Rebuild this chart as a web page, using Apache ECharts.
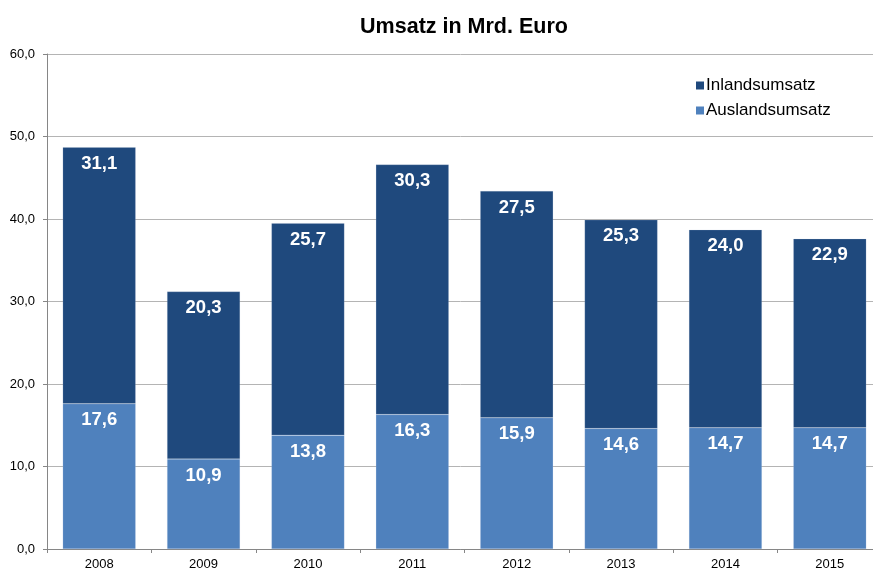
<!DOCTYPE html>
<html>
<head>
<meta charset="utf-8">
<script src="https://cdn.jsdelivr.net/npm/echarts@6/dist/echarts.min.js"></script>
<style>html,body{margin:0;padding:0;background:#fff;}#c{width:873px;height:571px;}</style>
</head>
<body>
<div id="c"></div>
<script>
var years = ['2008','2009','2010','2011','2012','2013','2014','2015'];
var ausland = [17.6, 10.9, 13.8, 16.3, 15.9, 14.6, 14.7, 14.7];
var inland = [31.1, 20.3, 25.7, 30.3, 27.5, 25.3, 24.0, 22.9];
var seriesNames = ['Auslandsumsatz', 'Inlandsumsatz'];

function fmt(v){ return Number(v).toFixed(1).replace('.', ','); }

var chart = echarts.init(document.getElementById('c'));
var labelStyle = {
  show: true, position: 'insideTop', distance: 7,
  color: '#fff', fontWeight: 'bold', fontSize: 18.5,
  fontFamily: 'Liberation Sans, Arial, sans-serif',
  formatter: function(p){ return fmt(p.value); }
};
chart.setOption({
  animation: false,
  backgroundColor: '#fff',
  title: {
    text: 'Umsatz in Mrd. Euro', left: 459, top: 11, textAlign: 'center',
    textStyle: { fontFamily: 'Liberation Sans, Arial, sans-serif', fontSize: 21.5, fontWeight: 'bold', color: '#000' }
  },
  legend: {
    data: ['Inlandsumsatz', 'Auslandsumsatz'],
    orient: 'vertical', left: 691, top: 72, itemWidth: 8, itemHeight: 8, itemGap: 8,
    icon: 'rect',
    itemStyle: { borderWidth: 0 },
    textStyle: { fontFamily: 'Liberation Sans, Arial, sans-serif', fontSize: 17, color: '#000', padding: [0,0,0,-3] }
  },
  grid: { left: 47, top: 54, width: 835, height: 495, containLabel: false, outerBoundsMode: 'none' },
  xAxis: {
    type: 'category', data: years,
    axisLine: { lineStyle: { color: '#868686', width: 1 } },
    axisTick: { show: true, length: 4, lineStyle: { color: '#868686' } },
    axisLabel: { fontFamily: 'Liberation Sans, Arial, sans-serif', fontSize: 13, color: '#000', margin: 9 }
  },
  yAxis: {
    type: 'value', min: 0, max: 60, interval: 10,
    axisLine: { show: true, lineStyle: { color: '#868686' } },
    axisTick: { show: true, length: 4, lineStyle: { color: '#868686' } },
    splitLine: { lineStyle: { color: '#b4b4b4', width: 1 } },
    axisLabel: { fontFamily: 'Liberation Sans, Arial, sans-serif', fontSize: 13, color: '#000', margin: 12,
      formatter: function(v){ return fmt(v); } }
  },
  series: [
    { name: seriesNames[0], type: 'bar', stack: 's', data: ausland, barWidth: 73,
      itemStyle: { color: '#4f81bd', borderColor: 'rgba(200,215,235,0.35)', borderWidth: 0.5 },
      label: labelStyle },
    { name: seriesNames[1], type: 'bar', stack: 's', data: inland, barWidth: 73,
      itemStyle: { color: '#1f497d', borderColor: 'rgba(190,205,225,0.35)', borderWidth: 0.5 },
      label: labelStyle }
  ]
});
</script>
</body>
</html>
